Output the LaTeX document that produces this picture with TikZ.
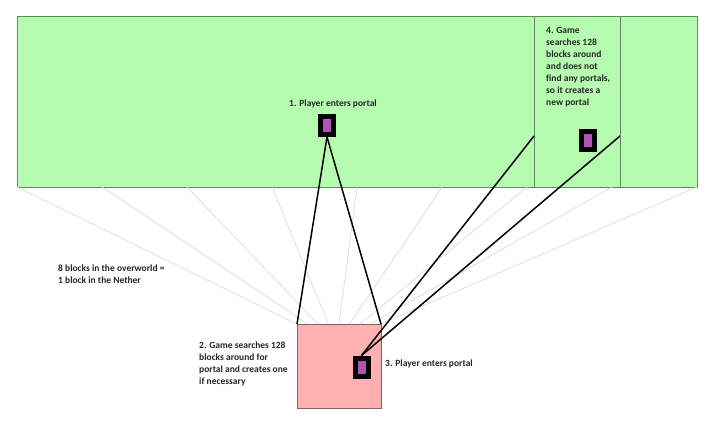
\documentclass[tikz,border=0pt]{standalone}
\usepackage{fontspec}
\setmainfont{Carlito}
\usetikzlibrary{calc,positioning}
\definecolor{overgreen}{RGB}{181,252,176}
\definecolor{overedge}{RGB}{95,140,95}
\definecolor{netherpink}{RGB}{255,176,176}
\definecolor{netheredge}{RGB}{140,95,95}
\definecolor{portalpurple}{RGB}{176,84,180}
\definecolor{fangrey}{RGB}{222,222,222}
\tikzset{
  world/.style={rectangle, inner sep=0pt, outer sep=0pt, line width=1pt},
  portal/.style={rectangle, draw=black, fill=portalpurple, line width=5pt,
    minimum width=13pt, minimum height=18pt, inner sep=0pt, outer sep=2.5pt},
  fan/.style={fangrey, line width=0.8pt},
  link/.style={black, line width=1.5pt},
  note/.style={font=\fontsize{9.5}{12}\selectfont\bfseries, text=black!85, inner sep=0pt, align=left}
}
\begin{document}
\begin{tikzpicture}[x=1pt,y=-1pt]
\useasboundingbox (0,0) rectangle (720,428);
% Overworld and Nether
\node[world, draw=overedge, fill=overgreen, minimum width=680pt, minimum height=170pt] (overworld) at (357,102) {};
\node[world, draw=netheredge, fill=netherpink, minimum width=84pt, minimum height=84pt] (nether) at (339,366) {};
% Search area in the overworld
\coordinate (searchleft) at (534,17);
\coordinate (searchright) at (620,17);
\draw[overedge, line width=1pt] (searchleft) -- (searchleft |- overworld.south);
\draw[overedge, line width=1pt] (searchright) -- (searchright |- overworld.south);
% 8 blocks to 1 block
\foreach \i in {0,...,8}
  \draw[fan] ($(overworld.south west)!\i/8!(overworld.south east)$) -- ($(nether.north west)!\i/8!(nether.north east)$);
% Portals
\node[portal] (enter) at (327,125.5) {};
\node[portal] (exit) at (361.5,367) {};
\node[portal] (created) at (587.5,140) {};
% Connectors
\draw[link] (enter.south) -- (nether.north west);
\draw[link] (enter.south) -- (nether.north east);
\coordinate (hitleft) at (534,136);
\coordinate (hitright) at (620,136);
\draw[link] (exit.north) -- (hitleft);
\draw[link] (exit.north) -- (hitright);
% Labels
\node[note] (step1) at (333,104) {1. Player enters portal};
\node[note, anchor=north west] (step4) at (546,27) {4. Game\\searches 128\\blocks around\\and does not\\find any portals,\\so it creates a\\new portal};
\node[note, anchor=north west] (ratio) at (58,265) {8 blocks in the overworld =\\1 block in the Nether};
\node[note, anchor=north west] (step2) at (199,342) {2. Game searches 128\\blocks around for\\portal and creates one\\if necessary};
\node[note, anchor=west] (step3) at (385,364) {3. Player enters portal};
\end{tikzpicture}
\end{document}
